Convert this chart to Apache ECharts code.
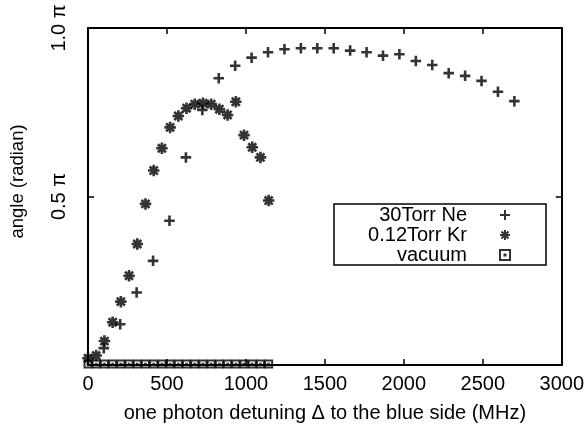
<!DOCTYPE html>
<html>
<head>
<meta charset="utf-8">
<script src="https://cdn.jsdelivr.net/npm/echarts@6/dist/echarts.min.js"></script>
<style>html,body{margin:0;padding:0;background:#fff}#c{width:587px;height:434px}</style>
</head>
<body>
<div id="c"></div>
<script>
// detuning (MHz) and angle (units of pi)
var neX = [100, 204, 308, 412, 516, 620, 724, 828, 932, 1036, 1140, 1244, 1348, 1452, 1556, 1660, 1764, 1868, 1972, 2076, 2180, 2284, 2388, 2492, 2596, 2700];
var neY = [0.050, 0.121, 0.215, 0.309, 0.428, 0.616, 0.757, 0.851, 0.888, 0.912, 0.928, 0.937, 0.940, 0.940, 0.940, 0.933, 0.928, 0.918, 0.922, 0.902, 0.890, 0.866, 0.858, 0.843, 0.811, 0.783];
var krX = [0, 52, 104, 156, 208, 260, 312, 364, 416, 468, 520, 572, 624, 676, 728, 780, 832, 884, 936, 988, 1040, 1092, 1144];
var krY = [0.020, 0.028, 0.071, 0.127, 0.188, 0.265, 0.359, 0.478, 0.577, 0.643, 0.705, 0.739, 0.762, 0.774, 0.777, 0.774, 0.759, 0.742, 0.781, 0.682, 0.646, 0.616, 0.488];
var vacX = [0, 52, 104, 156, 208, 260, 312, 364, 416, 468, 520, 572, 624, 676, 728, 780, 832, 884, 936, 988, 1040, 1092, 1144];
var vacY = [0.003, 0.003, 0.003, 0.003, 0.003, 0.003, 0.003, 0.003, 0.003, 0.003, 0.003, 0.003, 0.003, 0.003, 0.003, 0.003, 0.003, 0.003, 0.003, 0.003, 0.003, 0.003, 0.003];
var seriesNames = ['30Torr Ne', '0.12Torr Kr', 'vacuum'];
var yTickLabels = {0: '', 0.5: '0.5 \u03c0', 1: '1.0 \u03c0'};
var xTitle = 'one photon detuning \u0394 to the blue side (MHz)';
var yTitle = 'angle (radian)';

function pairs(xs, ys) { return xs.map(function (x, i) { return [x, ys[i]]; }); }

var FONT = '"Liberation Sans", Arial, Helvetica, sans-serif';
var PLUS = 'path://M0,5 L10,5 M5,0 L5,10';
var STAR = 'path://M0,5 L10,5 M5,0 L5,10 M1.5,1.5 L8.5,8.5 M1.5,8.5 L8.5,1.5';
var BOX = 'path://M0,0 L10,0 L10,10 L0,10 Z M4.5,4.5 L5.5,4.5 L5.5,5.5 L4.5,5.5 Z';

var chart = echarts.init(document.getElementById('c'), null, {renderer: 'canvas'});
var axisLine = {show: true, onZero: false, lineStyle: {color: '#000', width: 2}};
var tick = {show: true, inside: true, length: 6, lineStyle: {color: '#000', width: 1.5}};
chart.setOption({
  animation: false,
  backgroundColor: '#fff',
  grid: {left: 88, right: 21, top: 28, bottom: 69},
  xAxis: [{
    type: 'value', position: 'bottom', min: 0, max: 3000, interval: 500,
    axisLine: axisLine, axisTick: tick, splitLine: {show: false},
    axisLabel: {color: '#000', fontSize: 20, fontFamily: FONT, margin: 9, formatter: function (v) { return String(v); }},
    name: xTitle, nameLocation: 'middle', nameGap: 38,
    nameTextStyle: {color: '#000', fontSize: 20, fontFamily: FONT}
  }, {
    type: 'value', position: 'top', min: 0, max: 3000, interval: 500,
    axisLine: axisLine, axisTick: tick, splitLine: {show: false}, axisLabel: {show: false}
  }],
  yAxis: [{
    type: 'value', position: 'left', min: 0, max: 1, interval: 0.5,
    axisLine: axisLine, axisTick: tick, splitLine: {show: false},
    axisLabel: {color: '#000', fontSize: 20, fontFamily: FONT, rotate: 90, margin: 19,
      formatter: function (v) { return yTickLabels[v] !== undefined ? yTickLabels[v] : ''; }},
    name: yTitle, nameLocation: 'middle', nameGap: 61, nameRotate: 90,
    nameTextStyle: {color: '#000', fontSize: 18.5, fontFamily: FONT, padding: [0, 0, 0, 30]}
  }, {
    type: 'value', position: 'right', min: 0, max: 1, interval: 0.5,
    axisLine: axisLine, axisTick: tick, splitLine: {show: false}, axisLabel: {show: false}
  }],
  legend: {
    orient: 'vertical', align: 'right', left: 334, top: 204,
    padding: [1, 35, 0, 10], itemGap: 0, itemWidth: 10, itemHeight: 10,
    borderColor: '#000', borderWidth: 1.5, borderRadius: 0,
    textStyle: {color: '#000', fontSize: 20, fontFamily: FONT, width: 123, align: 'right', lineHeight: 16, padding: [0, 28, 0, 0]},
    data: seriesNames
  },
  series: [{
    name: seriesNames[0], type: 'scatter', data: pairs(neX, neY),
    symbol: PLUS, symbolSize: 10.5,
    itemStyle: {color: 'rgba(0,0,0,0)', borderColor: '#000', borderWidth: 2.6}
  }, {
    name: seriesNames[1], type: 'scatter', data: pairs(krX, krY),
    symbol: STAR, symbolSize: 11.5,
    itemStyle: {color: 'rgba(0,0,0,0)', borderColor: '#000', borderWidth: 2.6}
  }, {
    name: seriesNames[2], type: 'scatter', data: pairs(vacX, vacY),
    symbol: BOX, symbolSize: 7,
    itemStyle: {color: 'rgba(0,0,0,0)', borderColor: '#000', borderWidth: 2}
  }]
});
</script>
</body>
</html>
